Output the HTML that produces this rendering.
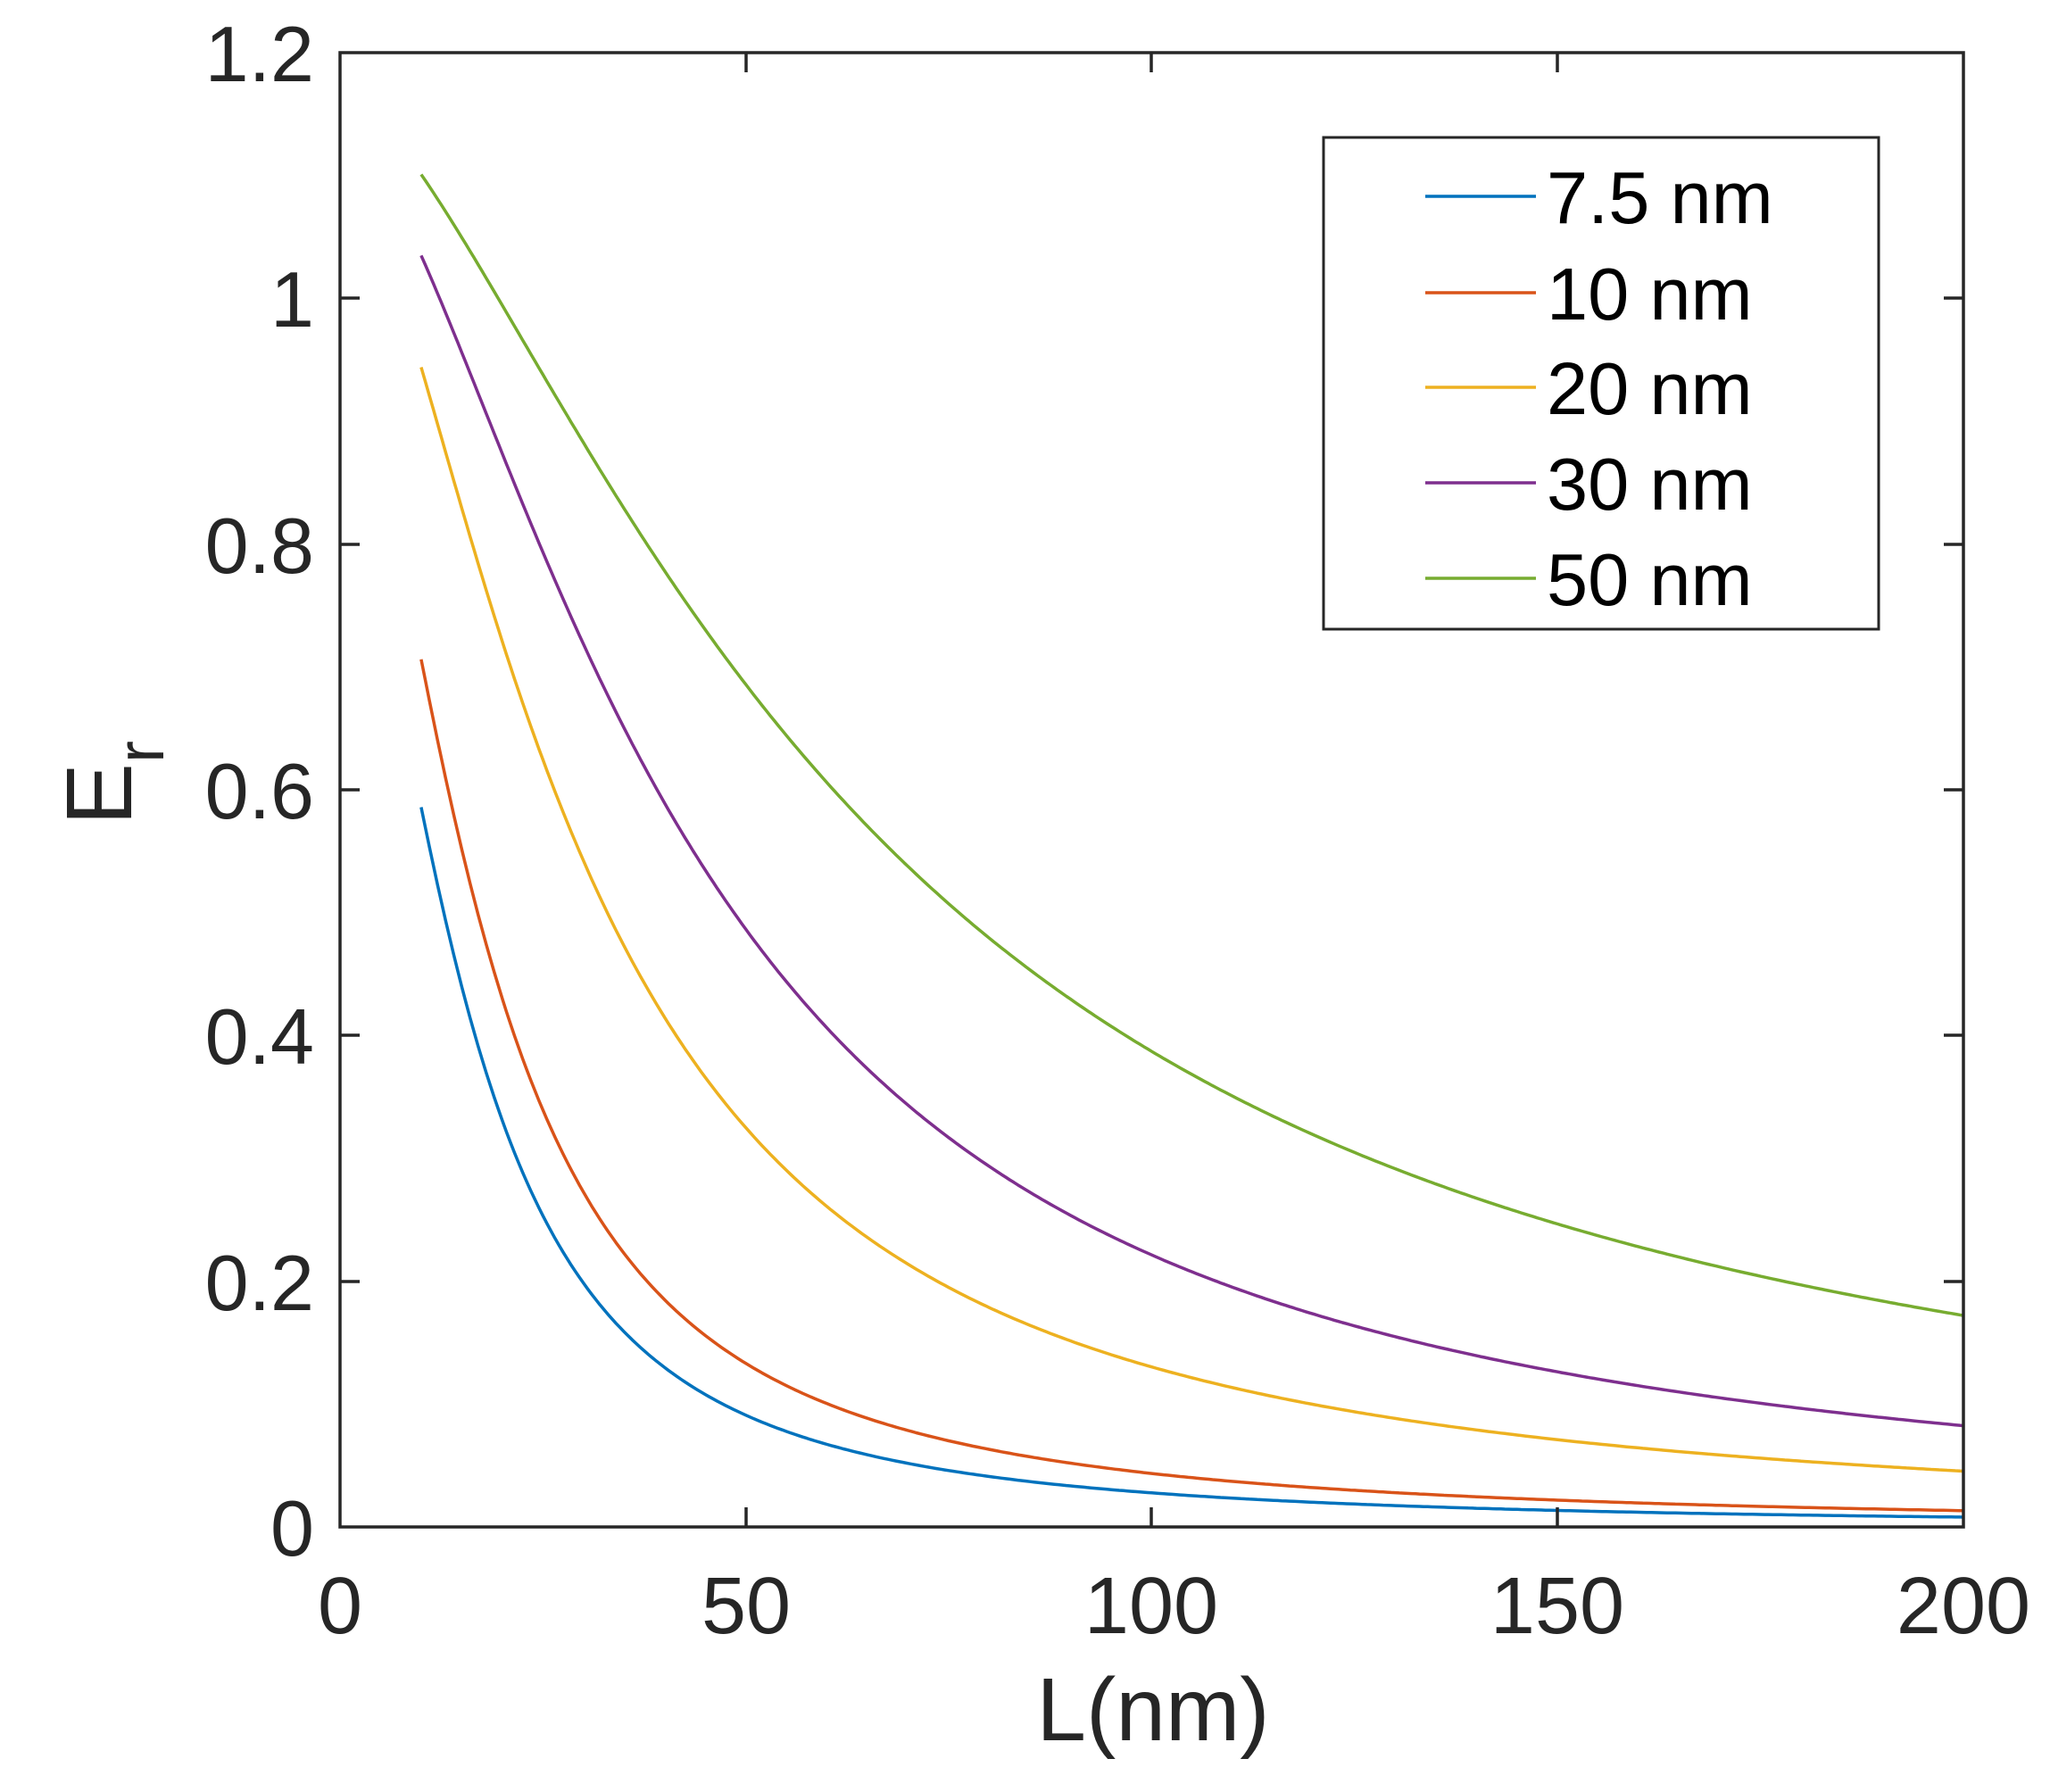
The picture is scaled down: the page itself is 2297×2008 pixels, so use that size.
<!DOCTYPE html>
<html><head><meta charset="utf-8"><style>
html,body{margin:0;padding:0;background:#fff;}
svg{display:block;}
text{font-family:"Liberation Sans",Arial,sans-serif;fill:#262626;}
</style></head><body>
<svg id="s" width="2297" height="2008" viewBox="0 0 2297 2008" xmlns="http://www.w3.org/2000/svg">
<rect width="2297" height="2008" fill="#fff"/>
<g id="curves" fill="none" stroke-width="3.5" stroke-linejoin="round"></g>
<g stroke="#262626" stroke-width="3.5" fill="none">
<rect x="381" y="59" width="1819" height="1652"/>
<path d="M381 1436h22M381 1160h22M381 885h22M381 610h22M381 334h22
M2200 1436h-22M2200 1160h-22M2200 885h-22M2200 610h-22M2200 334h-22
M836 1711v-22M1290 1711v-22M1745 1711v-22
M836 59v22M1290 59v22M1745 59v22"/>
</g>
<g font-size="88" text-anchor="end">
<text x="352" y="1743">0</text>
<text x="352" y="1468">0.2</text>
<text x="352" y="1192">0.4</text>
<text x="352" y="917">0.6</text>
<text x="352" y="642">0.8</text>
<text x="352" y="366">1</text>
<text x="352" y="91">1.2</text>
</g>
<g font-size="90" text-anchor="middle">
<text x="381" y="1830">0</text>
<text x="836" y="1830">50</text>
<text x="1290" y="1830">100</text>
<text x="1745" y="1830">150</text>
<text x="2200" y="1830">200</text>
</g>
<text x="1292" y="1950" font-size="100" text-anchor="middle">L(nm)</text>
<text transform="translate(147,925) rotate(-90)" font-size="105">E<tspan font-size="75" dy="36">r</tspan></text>
<rect x="1483" y="154" width="622" height="551" fill="#fff" stroke="#262626" stroke-width="3"/>
<g stroke-width="3.5">
<line x1="1597" x2="1721" y1="220" y2="220" stroke="#0072BD"/>
<line x1="1597" x2="1721" y1="328" y2="328" stroke="#D95319"/>
<line x1="1597" x2="1721" y1="434" y2="434" stroke="#EDB120"/>
<line x1="1597" x2="1721" y1="541" y2="541" stroke="#7E2F8E"/>
<line x1="1597" x2="1721" y1="648" y2="648" stroke="#77AC30"/>
</g>
<g font-size="83">
<text x="1733" y="250" style="fill:#000">7.5 nm</text>
<text x="1733" y="358" style="fill:#000">10 nm</text>
<text x="1733" y="464" style="fill:#000">20 nm</text>
<text x="1733" y="571" style="fill:#000">30 nm</text>
<text x="1733" y="678" style="fill:#000">50 nm</text>
</g>
</svg>
<script>
var data={
"#0072BD":[[10,.584],[14,.48],[21,.317],[28,.209],[35,.151],[50,.093],[63,.065],[77,.047],[91,.036],[110,.025],[150,.012],[200,.007]],
"#D95319":[[10,.705],[14,.585],[21,.41],[28,.295],[35,.216],[50,.137],[63,.094],[77,.065],[91,.05],[110,.039],[150,.022],[200,.013]],
"#EDB120":[[10,.944],[17.5,.794],[28,.57],[35,.462],[50,.318],[63,.245],[77,.188],[91,.144],[110,.115],[150,.075],[200,.045]],
"#7E2F8E":[[10,1.032],[17.5,.931],[28,.758],[35,.643],[50,.469],[63,.382],[77,.303],[91,.245],[110,.20],[150,.13],[200,.083]],
"#77AC30":[[10,1.099],[21,.997],[35,.83],[50,.682],[63,.577],[77,.49],[91,.418],[110,.357],[150,.253],[200,.17]]};
function fit(p){var best=null;
for(var c=3;c<=250;c*=1.01){for(var n=0.8;n<=3.2;n+=0.01){
var s=0,k=p.length;for(var i=0;i<k;i++)s+=Math.log(p[i][1])+Math.log(1+Math.pow(p[i][0]/c,n));
var lA=s/k,A=Math.exp(lA),e=0;
for(i=0;i<k;i++){var m=A/(1+Math.pow(p[i][0]/c,n));var w=(i==0)?4:1;e+=w*(m-p[i][1])*(m-p[i][1]);}
if(!best||e<best.e)best={e:e,A:A,c:c,n:n};}}
return best;}
var g=document.getElementById("curves"),NS="http://www.w3.org/2000/svg";
for(var col in data){var b=fit(data[col]),s="";
for(var L=10;L<=200.001;L+=0.5){var v=b.A/(1+Math.pow(L/b.c,b.n));var X=381+L*9.095,Y=1711-v*1376.7;s+=(s?"L":"M")+X.toFixed(1)+" "+Y.toFixed(1);}
var e=document.createElementNS(NS,"path");e.setAttribute("d",s);e.setAttribute("stroke",col);g.appendChild(e);}
</script>
</body></html>
